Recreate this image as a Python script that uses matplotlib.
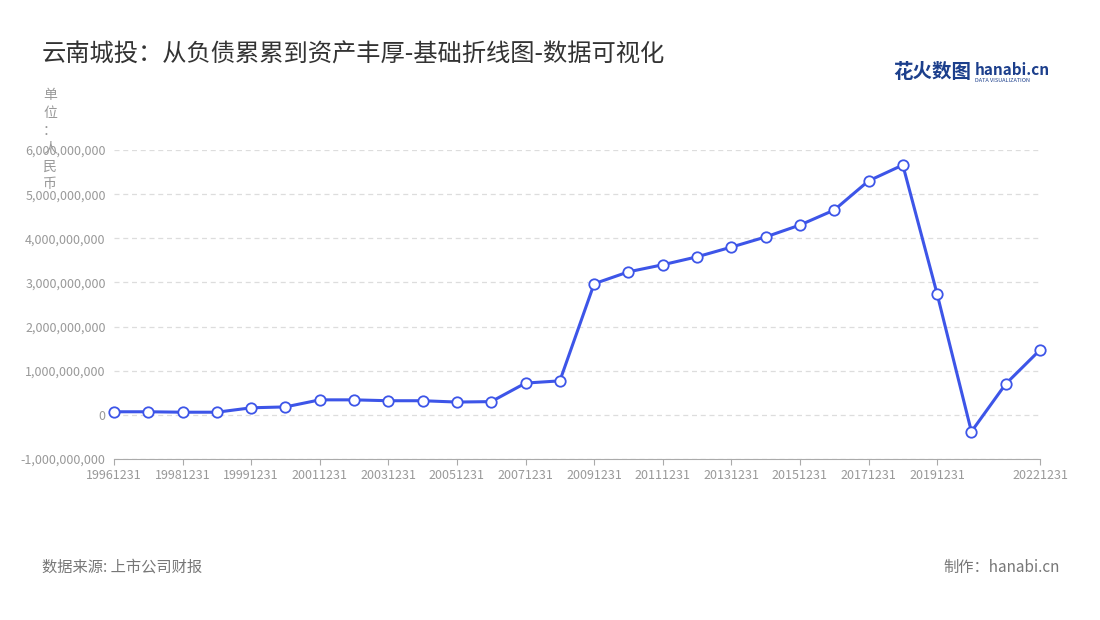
import matplotlib
matplotlib.use("Agg")
from matplotlib import pyplot as plt
from matplotlib.ticker import FuncFormatter

plt.rcParams['font.family'] = ['Noto Sans CJK SC', 'DejaVu Sans']

dates = ['19961231', '19971231', '19981231', '19990630', '19991231', '20001231',
         '20011231', '20021231', '20031231', '20041231', '20051231', '20061231',
         '20071231', '20081231', '20091231', '20101231', '20111231', '20121231',
         '20131231', '20141231', '20151231', '20161231', '20171231', '20181231',
         '20191231', '20201231', '20211231', '20221231']
values = [0.07, 0.07, 0.06, 0.06, 0.16, 0.18, 0.34, 0.34, 0.32, 0.32, 0.29, 0.30,
          0.72, 0.77, 2.97, 3.24, 3.40, 3.58, 3.80, 4.03, 4.30, 4.64, 5.30, 5.66,
          2.74, -0.38, 0.70, 1.47]
values = [v * 1e9 for v in values]
label_idx = [0, 2, 4, 6, 8, 10, 12, 14, 16, 18, 20, 22, 24, 27]

fig = plt.figure(figsize=(11, 6.2), dpi=100)
ax = fig.add_axes([114 / 1100, 1 - 459 / 620, 926 / 1100, 309 / 620])

x = list(range(len(dates)))
ax.plot(x, values, color='#3d55e8', lw=2.2, marker='o', ms=7.5,
        markerfacecolor='white', markeredgecolor='#3d55e8', markeredgewidth=1.3,
        zorder=3, clip_on=False)

ax.set_xlim(0, len(dates) - 1)
ax.set_ylim(-1e9, 6e9)
ax.set_yticks([i * 1e9 for i in range(-1, 7)])
ax.yaxis.set_major_formatter(FuncFormatter(lambda v, p: f"{int(round(v)):,}"))
ax.set_xticks(label_idx)
ax.set_xticklabels([dates[i] for i in label_idx])
ax.grid(axis='y', color='#dddddd', ls=(0, (4, 3)), lw=0.9)
for s in ['top', 'right', 'left']:
    ax.spines[s].set_visible(False)
ax.spines['bottom'].set_color('#aaaaaa')
ax.tick_params(axis='y', length=0, labelsize=9, labelcolor='#999999', pad=6)
ax.tick_params(axis='x', length=4, color='#aaaaaa', labelsize=9, labelcolor='#999999')

fig.text(42 / 1100, 1 - 55 / 620, '云南城投：从负债累累到资产丰厚-基础折线图-数据可视化',
         fontsize=17.5, color='#333333', va='center')
fig.text(50 / 1100, 1 - 88 / 620, '单\n位\n：\n人\n民\n币', fontsize=10, color='#999999',
         va='top', ha='center', linespacing=1.35)
fig.text(893 / 1100, 1 - 73 / 620, '花火数图', fontsize=14, color='#1c3f8c',
         fontweight='bold', va='center')
fig.text(975 / 1100, 1 - 70 / 620, 'hanabi.cn', fontsize=11, color='#1c3f8c',
         fontweight='bold', va='center')
fig.text(975 / 1100, 1 - 80 / 620, 'DATA VISUALIZATION', fontsize=4, color='#1c3f8c', va='center')
fig.text(42 / 1100, 1 - 567 / 620, '数据来源: 上市公司财报', fontsize=11, color='#777777', va='center')
fig.text(1060 / 1100, 1 - 567 / 620, '制作：hanabi.cn', fontsize=11, color='#777777',
         va='center', ha='right')

fig.savefig('out.png', dpi=100)
